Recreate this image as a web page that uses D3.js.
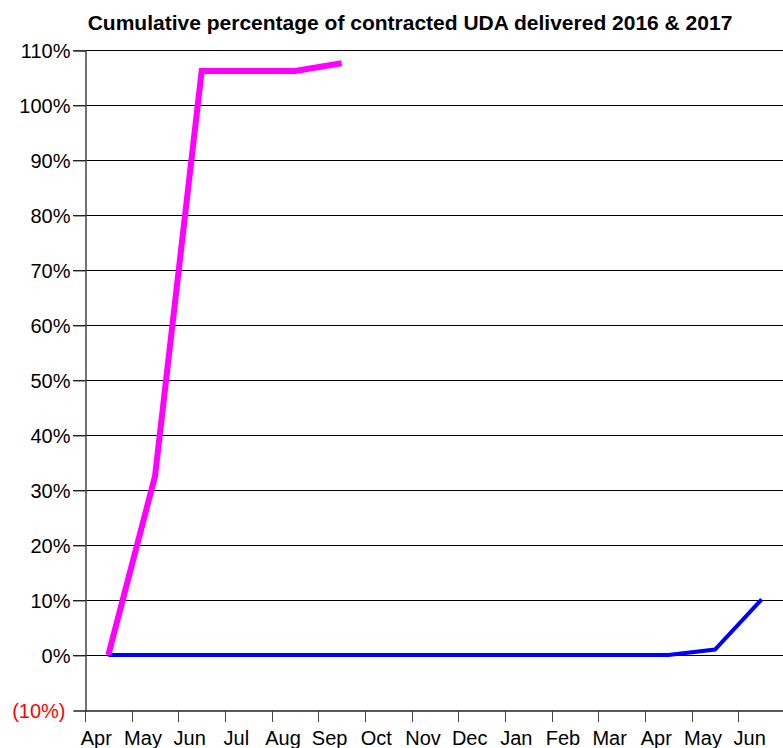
<!DOCTYPE html>
<html><head><meta charset="utf-8">
<script src="https://cdn.jsdelivr.net/npm/d3@7"></script>
<style>body{margin:0;background:#fff;} svg{display:block;font-family:"Liberation Sans",Arial,sans-serif;}</style>
</head><body>
<svg id="c" width="783" height="748"></svg>
<script>
const months = ["Apr","May","Jun","Jul","Aug","Sep","Oct","Nov","Dec","Jan","Feb","Mar","Apr ","May ","Jun "];
const series2016 = [0, 32.5, 106.2, 106.2, 106.2, 107.6];
const series2017 = [0,0,0,0,0,0,0,0,0,0,0,0,0,1.0,10.1];
const yTicks = [-10,0,10,20,30,40,50,60,70,80,90,100,110];
const title = "Cumulative percentage of contracted UDA delivered 2016 & 2017";

const svg = d3.select("#c");
const L = 85, R = 785, T = 50, B = 710;
const x = d3.scaleBand().domain(months).range([L, R]);
const y = d3.scaleLinear().domain([-10,110]).range([B, T]);
const FF = "Liberation Sans, Arial, sans-serif";

svg.append("text").attr("x", 410).attr("y", 30).attr("text-anchor","middle")
  .attr("font-size", 21).attr("font-weight","bold").attr("font-family",FF).text(title);

// gridlines
svg.append("g").selectAll("line").data(yTicks.filter(d=>d>-10)).join("line")
  .attr("x1", L-12).attr("x2", 783).attr("y1", d=>y(d)+0.5).attr("y2", d=>y(d)+0.5)
  .attr("stroke","#000").attr("stroke-width",1);

// y axis
const yAxis = d3.axisLeft(y).tickValues(yTicks).tickSize(12).tickPadding(3)
  .tickFormat(d => d < 0 ? `(${Math.abs(d)}%)` : `${d}%`);
const gy = svg.append("g").attr("transform", `translate(${L+0.5},0.5)`).call(yAxis);
gy.select(".domain").attr("stroke","#444").attr("stroke-width",1.5);
gy.selectAll(".tick line").attr("stroke","#444");
gy.selectAll(".tick text").attr("font-size",20).attr("fill", d => d<0 ? "#ff0000" : "#000")
  .attr("font-family",FF).attr("dy","0.36em");
gy.selectAll(".tick").filter(d=>d<0).select("text").attr("x",-20);

// x axis
const xAxis = d3.axisBottom(x).tickSize(0).tickPadding(0);
const gx = svg.append("g").attr("transform", `translate(0,${B+0.5})`).call(xAxis);
gx.select(".domain").attr("stroke","#222").attr("stroke-width",1.5);
gx.selectAll(".tick text").attr("font-size",20).attr("fill","#000")
  .attr("font-family",FF).attr("dy",null).attr("y",34).attr("x",-12);
// category boundary ticks
svg.append("g").selectAll("line").data(months).join("line")
  .attr("x1", d=>Math.round(x(d))+0.5).attr("x2", d=>Math.round(x(d))+0.5)
  .attr("y1", B).attr("y2", B+12).attr("stroke","#444");

const line = d3.line().x((d,i)=>x(months[i])+x.bandwidth()/2).y(d=>y(d));
svg.append("path").datum(series2017).attr("d", line).attr("fill","none")
  .attr("stroke","#0000ff").attr("stroke-width",4).attr("stroke-linejoin","miter");
svg.append("path").datum(series2016).attr("d", line).attr("fill","none")
  .attr("stroke","#ff00ff").attr("stroke-width",6).attr("stroke-linejoin","miter");
</script>
</body></html>
